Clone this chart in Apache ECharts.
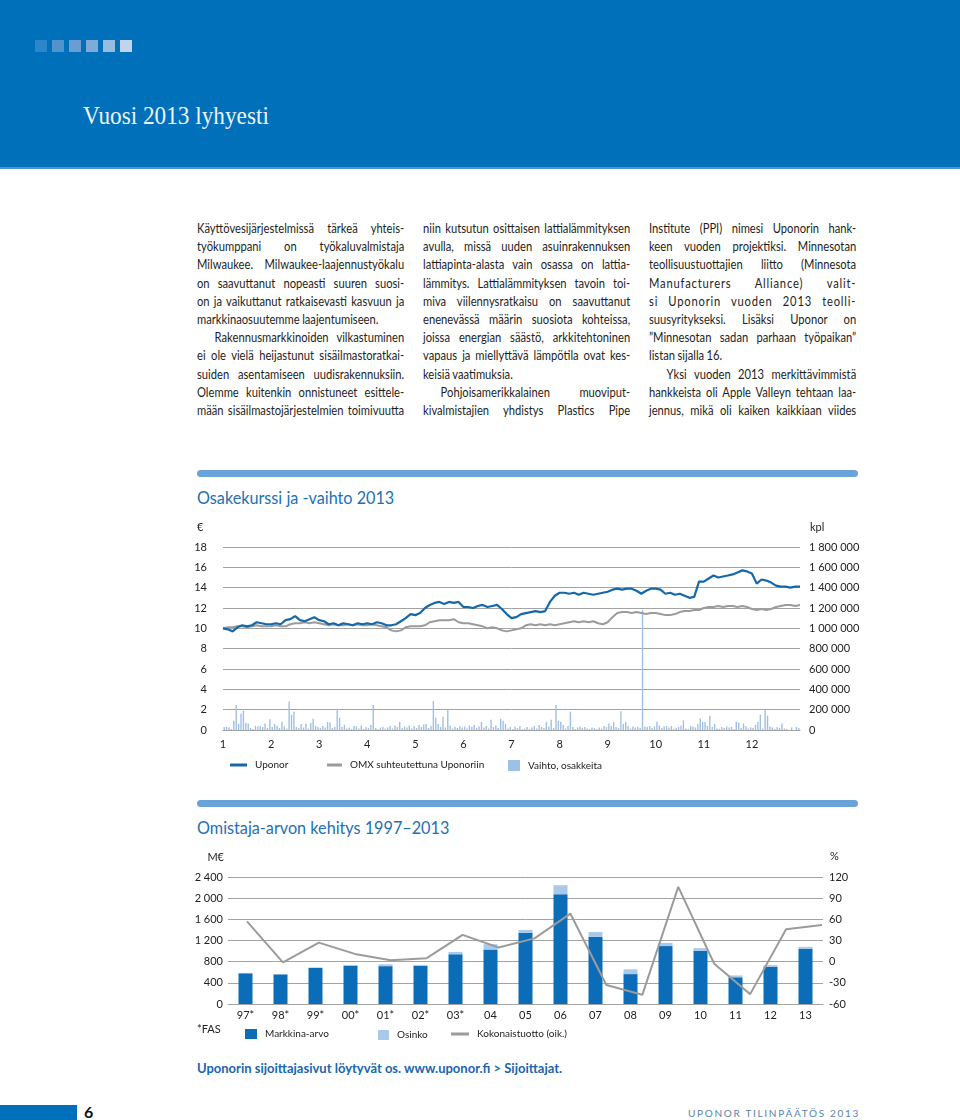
<!DOCTYPE html>
<html lang="fi">
<head>
<meta charset="utf-8">
<title>Vuosi 2013 lyhyesti</title>
<script src="https://cdn.jsdelivr.net/npm/echarts@6/dist/echarts.min.js"></script>
<style>
html, body { margin: 0; padding: 0; background: #fff; }
.page { position: relative; width: 960px; height: 1120px; overflow: hidden; font-family: Lato, "Noto Sans", sans-serif; color: #1e1e1e; }
.header { position: absolute; left: 0; top: 0; width: 960px; height: 167px; background: #0070ba; border-bottom: 2px solid #4d93cf; }
.squares { position: absolute; left: 35px; top: 40px; }
.squares span { float: left; width: 12px; height: 12px; margin-right: 5px; }
.header h1 { position: absolute; left: 83px; top: 101px; margin: 0; font: 400 25px/30px "Liberation Serif", serif; color: #eef4fb; transform: scaleX(0.93); transform-origin: 0 0; white-space: nowrap; }
.col { position: absolute; top: 219px; width: 259px; font-size: 14px; line-height: 18.2px; word-spacing: -0.5px; transform: scaleX(0.80); transform-origin: 0 0; }
.col div { text-align: justify; text-align-last: justify; }
.col .end { text-align-last: left; }
.col .ind { text-indent: 22px; }
.col .wide { letter-spacing: 1px; }
.rule { position: absolute; left: 197px; width: 661px; height: 7px; border-radius: 4px; background: #6ba3d9; }
h2 { position: absolute; left: 197px; margin: 0; font: 400 18px/22px Lato, sans-serif; color: #2270b4; transform: scaleX(0.9); transform-origin: 0 0; white-space: nowrap; }
.chart { position: absolute; left: 190px; width: 680px; }
.note { position: absolute; left: 197px; top: 1060px; font: 700 13px/16px Lato, sans-serif; color: #1a66ae; white-space: nowrap; }
.footbar { position: absolute; left: 0; top: 1105px; width: 77px; height: 15px; background: #0070ba; }
.pagenum { position: absolute; left: 84px; top: 1103px; font: 700 16px/18px Lato, sans-serif; color: #111; }
.brand { position: absolute; left: 688px; top: 1107px; font: 400 10px/13px Lato, sans-serif; letter-spacing: 1.7px; color: #5b82ad; white-space: nowrap; }
</style>
</head>
<body>
<div class="page">
  <div class="header">
    <div class="squares">
      <span style="background:#2c86cb"></span><span style="background:#5393cd"></span><span style="background:#6a9ed2"></span><span style="background:#80abd7"></span><span style="background:#98bbe0"></span><span style="background:#c2d4eb"></span>
    </div>
    <h1>Vuosi 2013 lyhyesti</h1>
  </div>

  <div class="col" style="left:197px">
    <div>Käyttövesijärjestelmissä tärkeä yhteis-</div>
    <div>työkumppani on työkaluvalmistaja</div>
    <div>Milwaukee. Milwaukee-laajennustyökalu</div>
    <div>on saavuttanut nopeasti suuren suosi-</div>
    <div>on ja vaikuttanut ratkaisevasti kasvuun ja</div>
    <div class="end">markkinaosuutemme laajentumiseen.</div>
    <div class="ind">Rakennusmarkkinoiden vilkastuminen</div>
    <div>ei ole vielä heijastunut sisäilmastoratkai-</div>
    <div>suiden asentamiseen uudisrakennuksiin.</div>
    <div>Olemme kuitenkin onnistuneet esittele-</div>
    <div>mään sisäilmastojärjestelmien toimivuutta</div>
  </div>
  <div class="col" style="left:423px">
    <div>niin kutsutun osittaisen lattialämmityksen</div>
    <div>avulla, missä uuden asuinrakennuksen</div>
    <div>lattiapinta-alasta vain osassa on lattia-</div>
    <div>lämmitys. Lattialämmityksen tavoin toi-</div>
    <div>miva viilennysratkaisu on saavuttanut</div>
    <div>enenevässä määrin suosiota kohteissa,</div>
    <div>joissa energian säästö, arkkitehtoninen</div>
    <div>vapaus ja miellyttävä lämpötila ovat kes-</div>
    <div class="end">keisiä vaatimuksia.</div>
    <div class="ind">Pohjoisamerikkalainen muoviput-</div>
    <div>kivalmistajien yhdistys Plastics Pipe</div>
  </div>
  <div class="col" style="left:649px">
    <div>Institute (PPI) nimesi Uponorin hank-</div>
    <div>keen vuoden projektiksi. Minnesotan</div>
    <div>teollisuustuottajien liitto (Minnesota</div>
    <div class="wide">Manufacturers Alliance) valit-</div>
    <div class="wide">si Uponorin vuoden 2013 teolli-</div>
    <div>suusyritykseksi. Lisäksi Uponor on</div>
    <div>”Minnesotan sadan parhaan työpaikan”</div>
    <div class="end">listan sijalla 16.</div>
    <div class="ind">Yksi vuoden 2013 merkittävimmistä</div>
    <div>hankkeista oli Apple Valleyn tehtaan laa-</div>
    <div>jennus, mikä oli kaiken kaikkiaan viides</div>
  </div>

  <div class="rule" style="top:470px"></div>
  <h2 style="top:486px">Osakekurssi ja -vaihto 2013</h2>
  <div class="chart" id="shareChart" style="top:510px;height:270px"></div>

  <div class="rule" style="top:800px"></div>
  <h2 style="top:816px">Omistaja-arvon kehitys 1997–2013</h2>
  <div class="chart" id="valueChart" style="top:840px;height:210px"></div>

  <div class="note">Uponorin sijoittajasivut löytyvät os. www.uponor.fi &gt; Sijoittajat.</div>
  <div class="footbar"></div>
  <div class="pagenum">6</div>
  <div class="brand">UPONOR TILINPÄÄTÖS 2013</div>
</div>

<script>
// Osakekurssi 2013, 10 havaintoa / kk (alkaen 1.1.)
var uponorPrice = [
  10.0, 9.9, 9.7, 10.1, 10.3, 10.2, 10.3, 10.6, 10.5, 10.4,
  10.4, 10.5, 10.4, 10.8, 10.9, 11.2, 10.8, 10.7, 10.9, 11.1,
  10.8, 10.7, 10.4, 10.5, 10.3, 10.5, 10.4, 10.3, 10.5, 10.4,
  10.5, 10.4, 10.6, 10.5, 10.3, 10.3, 10.4, 10.7, 11.0, 11.4,
  11.3, 11.5, 12.0, 12.3, 12.5, 12.6, 12.4, 12.6, 12.5, 12.6,
  12.1, 12.1, 12.0, 12.2, 12.3, 12.1, 12.2, 12.3, 11.9, 11.4,
  11.0, 11.1, 11.4, 11.5, 11.6, 11.7, 11.6, 11.7, 12.6, 13.2,
  13.5, 13.5, 13.4, 13.5, 13.3, 13.5, 13.4, 13.3, 13.4, 13.5,
  13.6, 13.8, 13.9, 13.8, 13.9, 13.9, 13.7, 13.4, 13.7, 13.9,
  13.9, 13.8, 13.4, 13.5, 13.3, 13.4, 13.2, 13.0, 13.1, 14.6,
  14.6, 14.9, 15.2, 15.0, 15.1, 15.2, 15.3, 15.5, 15.7, 15.6,
  15.4, 14.4, 14.8, 14.7, 14.5, 14.2, 14.1, 14.1, 14.0, 14.1, 14.1
];
var omxRelative = [
  10.0, 10.1, 10.1, 10.2, 10.2, 10.1, 10.2, 10.3, 10.2, 10.2,
  10.2, 10.3, 10.2, 10.2, 10.4, 10.5, 10.5, 10.6, 10.5, 10.6,
  10.5, 10.4, 10.3, 10.4, 10.3, 10.3, 10.4, 10.3, 10.4, 10.3,
  10.3, 10.4, 10.3, 10.2, 10.1, 9.8, 9.7, 9.8, 10.1, 10.2,
  10.2, 10.2, 10.3, 10.6, 10.7, 10.8, 10.8, 10.8, 10.9, 10.6,
  10.5, 10.5, 10.4, 10.3, 10.2, 10.0, 10.1, 10.0, 9.8, 9.7,
  9.8, 9.9, 10.0, 10.3, 10.4, 10.3, 10.4, 10.3, 10.4, 10.3,
  10.4, 10.5, 10.6, 10.7, 10.6, 10.7, 10.6, 10.7, 10.5, 10.4,
  10.6, 11.1, 11.5, 11.6, 11.6, 11.5, 11.6, 11.5, 11.4, 11.5,
  11.5, 11.4, 11.3, 11.3, 11.4, 11.6, 11.7, 11.7, 11.8, 11.8,
  12.0, 12.1, 12.1, 12.2, 12.1, 12.2, 12.2, 12.1, 12.2, 12.1,
  11.9, 11.8, 11.9, 11.8, 11.9, 12.1, 12.2, 12.3, 12.3, 12.2, 12.3
];
// Vaihto, tuhatta osaketta, 20 jaksoa / kk
var volumeThousands = [
  30, 30, 25, 10, 90, 245, 60, 160, 190, 70, 65, 20, 10, 40, 35, 40, 30, 65, 20, 105,
  30, 60, 40, 20, 80, 35, 15, 280, 150, 180, 30, 20, 60, 25, 65, 15, 70, 110, 40, 30,
  20, 40, 25, 80, 75, 20, 30, 210, 120, 30, 50, 15, 25, 10, 40, 35, 15, 45, 10, 30,
  20, 50, 245, 20, 10, 25, 30, 15, 25, 40, 15, 45, 30, 80, 20, 35, 25, 45, 15, 40,
  20, 50, 30, 55, 60, 20, 40, 285, 120, 60, 30, 130, 25, 200, 45, 15, 30, 20, 40, 25,
  35, 15, 45, 30, 50, 20, 35, 80, 25, 40, 15, 100, 30, 45, 20, 110, 90, 60, 15, 30,
  10, 35, 20, 40, 10, 15, 30, 10, 25, 40, 15, 50, 30, 20, 80, 35, 100, 20, 245, 90,
  80, 50, 15, 40, 180, 30, 10, 25, 35, 20, 30, 15, 10, 25, 20, 10, 25, 15, 40, 30,
  65, 40, 80, 30, 20, 185, 60, 80, 40, 15, 35, 25, 30, 20, 1180, 35, 30, 40, 20, 35,
  80, 45, 20, 35, 40, 25, 40, 10, 20, 30, 45, 95, 15, 10, 40, 35, 25, 60, 115, 80,
  80, 40, 140, 30, 60, 15, 10, 30, 20, 35, 25, 30, 10, 80, 75, 20, 65, 40, 15, 25,
  20, 50, 80, 150, 15, 200, 140, 35, 25, 10, 30, 20, 65, 15, 10, 0, 25, 0, 30, 20
];
var monthTicks = [1, 2, 3, 4, 5, 6, 7, 8, 9, 10, 11, 12];

// Omistaja-arvo 1997–2013
var years = ['97*', '98*', '99*', '00*', '01*', '02*', '03*', '04', '05', '06', '07', '08', '09', '10', '11', '12', '13'];
var marketCap = [580, 560, 680, 725, 715, 720, 940, 1030, 1345, 2075, 1270, 565, 1095, 1005, 505, 705, 1045];
var dividend = [8, 8, 12, 12, 35, 18, 45, 100, 55, 170, 90, 90, 60, 50, 35, 30, 35];
var totalReturn = [57, -1, 27, 11, 2, 5, 38, 20, 33, 68, -33, -47, 106, -3, -46, 46, 52];

var gridGrey = '#a3a3a3';
var labelText = { color: '#222', fontSize: 11, fontFamily: 'Lato, sans-serif' };
var legendText = { color: '#222', fontSize: 10, fontFamily: 'Lato, sans-serif', padding: [0, 0, 0, 3] };

function spaced(n) {
  return String(n).replace(/\B(?=(\d{3})+(?!\d))/g, ' ');
}

var shareChart = echarts.init(document.getElementById('shareChart'));
shareChart.setOption({
  animation: false,
  grid: { left: 33, right: 70, top: 37, bottom: 50 },
  graphic: [
    { type: 'text', left: 7, top: 12, style: { text: '€', fill: '#222', font: '11px Lato, sans-serif' } },
    { type: 'text', left: 620, top: 12, style: { text: 'kpl', fill: '#222', font: '11px Lato, sans-serif' } }
  ],
  legend: [
    { data: ['Uponor'], left: 35, top: 245, icon: 'rect', itemWidth: 17, itemHeight: 3, textStyle: legendText },
    { data: ['OMX suhteutettuna Uponoriin'], left: 132, top: 245, icon: 'rect', itemWidth: 15, itemHeight: 3, textStyle: legendText },
    { data: ['Vaihto, osakkeita'], left: 313, top: 245, icon: 'rect', itemWidth: 12, itemHeight: 11, textStyle: legendText }
  ],
  xAxis: {
    type: 'value', min: 1, max: 13, interval: 1,
    axisLine: { show: true, onZero: false, lineStyle: { color: gridGrey } },
    axisTick: { show: false },
    splitLine: { show: false },
    axisLabel: Object.assign({ margin: 9, formatter: function (v) { return monthTicks.indexOf(v) >= 0 ? String(v) : ''; } }, labelText)
  },
  yAxis: [
    {
      type: 'value', min: 0, max: 18, interval: 2,
      axisLine: { show: false }, axisTick: { show: false },
      splitLine: { lineStyle: { color: gridGrey, width: 1 } },
      axisLabel: Object.assign({ margin: 16 }, labelText)
    },
    {
      type: 'value', min: 0, max: 1800, interval: 200,
      axisLine: { show: false }, axisTick: { show: false },
      splitLine: { show: false },
      axisLabel: Object.assign({ margin: 9, formatter: function (v) { return spaced(v * 1000); } }, labelText)
    }
  ],
  series: [
    {
      name: 'Vaihto, osakkeita', type: 'bar', yAxisIndex: 1, barWidth: 1.4,
      itemStyle: { color: '#9fc0e6' },
      data: volumeThousands.map(function (v, i) { return [1 + (i + 0.5) / 20, v]; })
    },
    {
      name: 'OMX suhteutettuna Uponoriin', type: 'line', symbol: 'none',
      lineStyle: { color: '#9b9b9b', width: 2 }, itemStyle: { color: '#9b9b9b' },
      data: omxRelative.map(function (v, i) { return [1 + i / 10, v]; })
    },
    {
      name: 'Uponor', type: 'line', symbol: 'none',
      lineStyle: { color: '#1568aa', width: 2.2 }, itemStyle: { color: '#1568aa' },
      data: uponorPrice.map(function (v, i) { return [1 + i / 10, v]; })
    }
  ]
});

// kokonaistuoton viiva on alkuperäisessä piirretty hieman leveämmälle asteikolle kuin pylväät
var valueChart = echarts.init(document.getElementById('valueChart'));
valueChart.setOption({
  animation: false,
  grid: [
    { left: 38, right: 47, top: 37, bottom: 46 },
    { left: 39, right: 30, top: 37, bottom: 46 }
  ],
  graphic: [
    { type: 'text', right: 646, top: 12, style: { text: 'M€', fill: '#222', font: '11px Lato, sans-serif' } },
    { type: 'text', left: 640, top: 11, style: { text: '%', fill: '#222', font: '11px Lato, sans-serif' } },
    { type: 'text', left: 7, top: 184, style: { text: '*FAS', fill: '#222', font: '11px Lato, sans-serif' } }
  ],
  legend: [
    { data: ['Markkina-arvo'], left: 50, top: 184, icon: 'rect', itemWidth: 12, itemHeight: 10, textStyle: legendText },
    { data: ['Osinko'], left: 183, top: 185, icon: 'rect', itemWidth: 11, itemHeight: 10, textStyle: legendText },
    { data: ['Kokonaistuotto (oik.)'], left: 256, top: 184, icon: 'rect', itemWidth: 18, itemHeight: 3, textStyle: legendText }
  ],
  xAxis: [
    {
      type: 'category', data: years, gridIndex: 0,
      axisLine: { lineStyle: { color: gridGrey } },
      axisTick: { show: false },
      axisLabel: Object.assign({ margin: 6 }, labelText)
    },
    { type: 'category', data: years, gridIndex: 1, show: false }
  ],
  yAxis: [
    {
      type: 'value', min: 0, max: 2400, interval: 400, gridIndex: 0,
      axisLine: { show: false }, axisTick: { show: false },
      splitLine: { lineStyle: { color: gridGrey, width: 1 } },
      axisLabel: Object.assign({ margin: 5, formatter: spaced }, labelText)
    },
    {
      type: 'value', min: -60, max: 120, interval: 30, gridIndex: 0, position: 'right',
      axisLine: { show: false }, axisTick: { show: false },
      splitLine: { show: false },
      axisLabel: Object.assign({ margin: 6 }, labelText)
    },
    { type: 'value', min: -60, max: 120, interval: 30, gridIndex: 1, show: false, splitLine: { show: false } }
  ],
  series: [
    { name: 'Markkina-arvo', type: 'bar', stack: 'arvo', barWidth: 14, itemStyle: { color: '#0b6cb8' }, data: marketCap },
    { name: 'Osinko', type: 'bar', stack: 'arvo', barWidth: 14, itemStyle: { color: '#a9c9eb' }, data: dividend },
    {
      name: 'Kokonaistuotto (oik.)', type: 'line', xAxisIndex: 1, yAxisIndex: 2, symbol: 'none', z: 5,
      lineStyle: { color: '#9b9b9b', width: 2 }, itemStyle: { color: '#9b9b9b' },
      data: totalReturn
    }
  ]
});
</script>
</body>
</html>
